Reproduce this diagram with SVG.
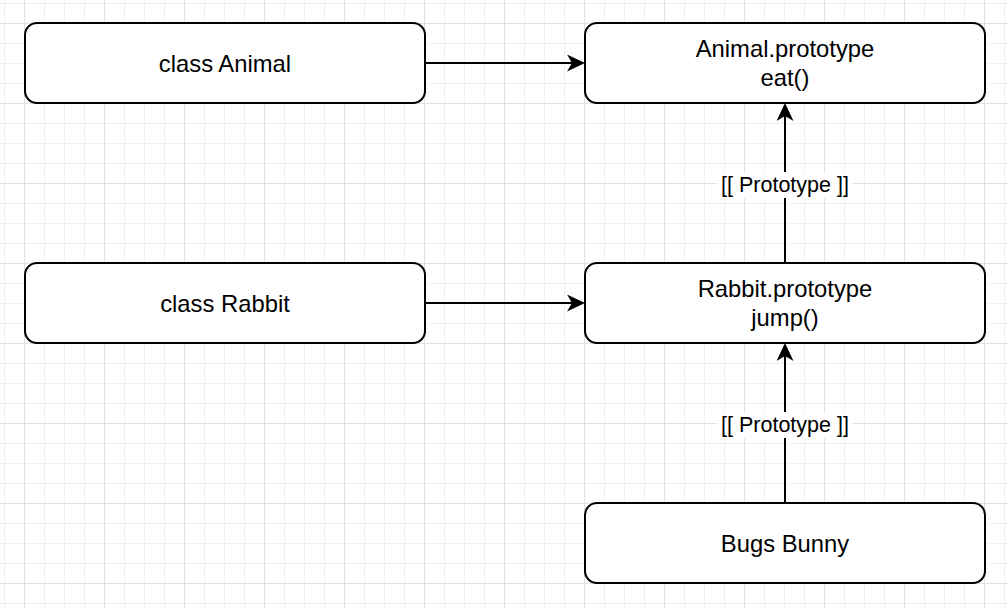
<svg xmlns="http://www.w3.org/2000/svg" width="1008" height="608" viewBox="0 0 1008 608">
  <defs>
    <pattern id="grid" patternUnits="userSpaceOnUse" x="24" y="23" width="80" height="80">
      <rect x="0" y="0" width="80" height="80" fill="#ffffff"/>
      <g fill="#f0f0f0">
        <rect x="20" y="0" width="1" height="80"/>
        <rect x="40" y="0" width="1" height="80"/>
        <rect x="60" y="0" width="1" height="80"/>
        <rect x="0" y="20" width="80" height="1"/>
        <rect x="0" y="40" width="80" height="1"/>
        <rect x="0" y="60" width="80" height="1"/>
      </g>
      <g fill="#e0e0e0">
        <rect x="0" y="0" width="1" height="80"/>
        <rect x="0" y="0" width="80" height="1"/>
      </g>
    </pattern>
    <marker id="arrow" markerUnits="userSpaceOnUse" viewBox="0 0 18 17" refX="5" refY="8.5" markerWidth="18" markerHeight="17" orient="auto">
      <path d="M0,0 L18,8.5 L0,17 L5,8.5 Z" fill="#000000"/>
    </marker>
  </defs>
  <style>
    .node rect { fill: #ffffff; stroke: #000000; stroke-width: 2; }
    .node text { font-family: "Liberation Sans", Arial, Helvetica, sans-serif; font-size: 23.8px; fill: #000000; text-anchor: middle; }
    .edge { fill: none; stroke: #000000; stroke-width: 2; marker-end: url(#arrow); }
    .lbl rect { fill: #ffffff; }
    .lbl text { font-family: "Liberation Sans", Arial, Helvetica, sans-serif; font-size: 21.5px; fill: #000000; text-anchor: middle; }
  </style>
  <rect x="0" y="0" width="1008" height="608" fill="url(#grid)"/>

  <g id="connectors">
    <path class="edge" d="M425 63 H572"/>
    <path class="edge" d="M425 303 H572"/>
    <path class="edge" d="M785 263 V116"/>
    <path class="edge" d="M785 503 V356"/>
    <g class="lbl">
      <rect x="717" y="172" width="136" height="26"/>
      <text x="785" y="192">[[ Prototype ]]</text>
      <rect x="717" y="412" width="136" height="26"/>
      <text x="785" y="432">[[ Prototype ]]</text>
    </g>
  </g>

  <g id="class-animal" class="node">
    <rect x="25" y="23" width="400" height="80" rx="12" ry="12"/>
    <text x="225" y="72">class Animal</text>
  </g>
  <g id="animal-prototype" class="node">
    <rect x="585" y="23" width="400" height="80" rx="12" ry="12"/>
    <text x="785" y="57.3">Animal.prototype</text>
    <text x="785" y="85.7">eat()</text>
  </g>
  <g id="class-rabbit" class="node">
    <rect x="25" y="263" width="400" height="80" rx="12" ry="12"/>
    <text x="225" y="312">class Rabbit</text>
  </g>
  <g id="rabbit-prototype" class="node">
    <rect x="585" y="263" width="400" height="80" rx="12" ry="12"/>
    <text x="785" y="297.3">Rabbit.prototype</text>
    <text x="785" y="325.7">jump()</text>
  </g>
  <g id="bugs-bunny" class="node">
    <rect x="585" y="503" width="400" height="80" rx="12" ry="12"/>
    <text x="785" y="552">Bugs Bunny</text>
  </g>
</svg>
